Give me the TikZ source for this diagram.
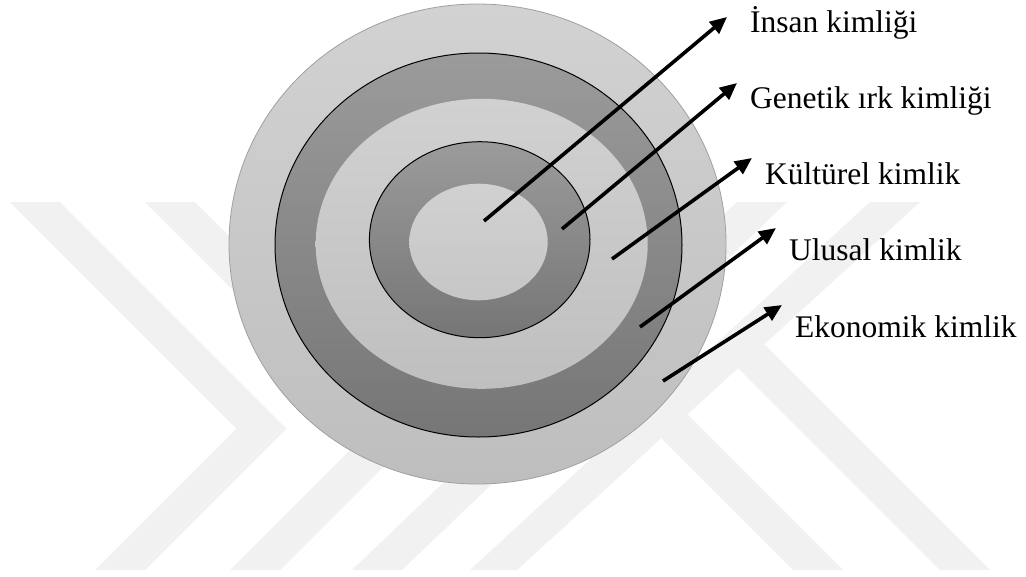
\documentclass[tikz,border=0pt]{standalone}
\usepackage{fontspec}
\setmainfont{Liberation Serif}
\usetikzlibrary{arrows.meta}
\definecolor{wm}{HTML}{F1F1F1}
\definecolor{outerT}{HTML}{D2D2D2}
\definecolor{outerB}{HTML}{BEBEBE}
\definecolor{darkT}{HTML}{9B9B9B}
\definecolor{darkB}{HTML}{767676}
\definecolor{lightT}{HTML}{D1D1D1}
\definecolor{lightB}{HTML}{BFBFBF}
\definecolor{rimgray}{HTML}{A0A0A0}
\tikzset{
  watermark/.style={fill=wm, draw=none},
  ptr/.style={line width=3.6pt, -{Triangle[length=17pt,width=15pt]}},
  lbl/.style={anchor=base west, inner sep=0pt, font=\fontsize{31.5}{36}\selectfont},
}
\begin{document}
\begin{tikzpicture}[x=1pt,y=-1pt]
\useasboundingbox (0,0) rectangle (1026,576);
\fill[white] (0,0) rectangle (1026,576);
% watermark
\fill[watermark] (10,202) -- (60,202) -- (286.5,428.5) -- (145,570) -- (95,570) -- (236.5,428.5) -- cycle;
\fill[watermark] (145,202) -- (195,202) -- (421.5,428.5) -- (280,570) -- (230,570) -- (371.5,428.5) -- cycle;
\fill[watermark] (737,202) -- (787,202) -- (402,570) -- (352,570) -- cycle;
\fill[watermark] (577,354) -- (627,354) -- (843,570) -- (793,570) -- cycle;
\fill[watermark] (870,202) -- (920,202) -- (517,570) -- (470,570) -- cycle;
\fill[watermark] (715,345) -- (765,345) -- (990,570) -- (940,570) -- cycle;
% rings
\coordinate (c1) at (477.5,244);
\coordinate (c2) at (478.5,245);
\coordinate (c3) at (481.7,243.8);
\coordinate (c4) at (479.7,239.7);
\coordinate (c5) at (478.5,242);
\draw[rimgray, line width=0.8pt, top color=outerT, bottom color=outerB] (c1) ellipse [x radius=248.5pt, y radius=240pt];
\draw[black, line width=1pt, top color=darkT, bottom color=darkB] (c2) ellipse [x radius=203.5pt, y radius=192pt];
\path[top color=lightT, bottom color=lightB] (c3) ellipse [x radius=166pt, y radius=145pt];
\draw[black, line width=1pt, top color=darkT, bottom color=darkB] (c4) ellipse [x radius=110.3pt, y radius=98pt];
\path[top color=lightT, bottom color=lightB!60!lightT] (c5) ellipse [x radius=69.2pt, y radius=58.3pt];
% arrows
\coordinate (s1) at (484,221);  \coordinate (t1) at (727,17);
\coordinate (s2) at (562,229);  \coordinate (t2) at (737,83);
\coordinate (s3) at (612,259);  \coordinate (t3) at (752,158);
\coordinate (s4) at (640,327);  \coordinate (t4) at (776,228);
\coordinate (s5) at (663,381);  \coordinate (t5) at (782,305);
\draw[ptr] (s1) -- (t1);
\draw[ptr] (s2) -- (t2);
\draw[ptr] (s3) -- (t3);
\draw[ptr] (s4) -- (t4);
\draw[ptr] (s5) -- (t5);
% labels
\node[lbl] (l1) at (750,32) {İnsan kimliği};
\node[lbl] (l2) at (750,108) {Genetik ırk kimliği};
\node[lbl] (l3) at (765,184) {Kültürel kimlik};
\node[lbl] (l4) at (789,260) {Ulusal kimlik};
\node[lbl] (l5) at (795,337) {Ekonomik kimlik};
\end{tikzpicture}
\end{document}
